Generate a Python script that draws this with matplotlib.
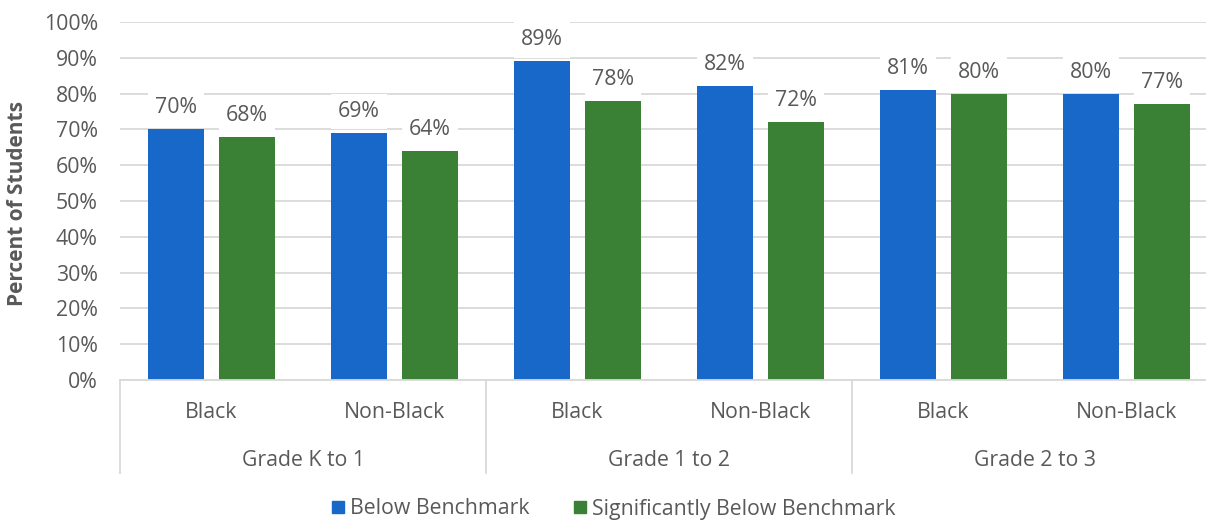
import matplotlib
matplotlib.use("Agg")
import matplotlib.pyplot as plt
import matplotlib.transforms as mtransforms
from matplotlib.lines import Line2D
import numpy as np

plt.rcParams['font.family'] = ['Open Sans', 'DejaVu Sans']

groups = ["Grade K to 1", "Grade 1 to 2", "Grade 2 to 3"]
subgroups = ["Black", "Non-Black"]
below = [70, 69, 89, 82, 81, 80]
sig_below = [68, 64, 78, 72, 80, 77]
series_names = ["Below Benchmark", "Significantly Below Benchmark"]
colors = ["#1868C9", "#3A8035"]
text_color = "#595959"
grid_color = "#D9D9D9"
fs = 15.3

W, H = 1206, 523
fig = plt.figure(figsize=(W / 100, H / 100), dpi=100)
ax_left, ax_right, ax_top, ax_bottom = 120, 1218, 22, 380
ax = fig.add_axes([ax_left / W, 1 - ax_bottom / H,
                   (ax_right - ax_left) / W, (ax_bottom - ax_top) / H])

n = len(below)
x = np.arange(n)
offset = 0.194
width = 0.306

for vals, dx, c in [(below, -offset, colors[0]), (sig_below, offset, colors[1])]:
    bars = ax.bar(x + dx, vals, width=width, color=c, zorder=2)
    for b, v in zip(bars, vals):
        ax.annotate(f"{v}%", (b.get_x() + b.get_width() / 2, v),
                    xytext=(0, 15.5), textcoords="offset points",
                    ha="center", va="center", fontsize=fs, color=text_color,
                    zorder=5,
                    bbox=dict(boxstyle="square,pad=0.35", fc="white", ec="none"))

ax.set_xlim(-0.5, n - 0.5)
ax.set_ylim(0, 100)
ax.set_yticks(np.arange(0, 101, 10))
ax.set_yticklabels([f"{t}%" for t in range(0, 101, 10)])
ax.tick_params(axis="y", length=0, pad=16, labelsize=fs, labelcolor=text_color)
ax.set_xticks([])
ax.yaxis.grid(True, color=grid_color, linewidth=1.3, zorder=0)
ax.set_axisbelow(True)
for s in ["top", "right", "left"]:
    ax.spines[s].set_visible(False)
ax.spines["bottom"].set_color(grid_color)
ax.spines["bottom"].set_linewidth(1.3)

# Two-level category axis
trans = mtransforms.blended_transform_factory(ax.transData, ax.transAxes)
axis_h = ax_bottom - ax_top
sep_depth = -(473 - ax_bottom) / axis_h
for sx in np.arange(-0.5, n, 2):
    ax.add_line(Line2D([sx, sx], [0, sep_depth], transform=trans,
                       color=grid_color, linewidth=1.3, clip_on=False))
row1_y = -(413 - ax_bottom) / axis_h
row2_y = -(460 - ax_bottom) / axis_h
for i in range(n):
    ax.text(i, row1_y, subgroups[i % 2], transform=trans, ha="center",
            va="center", fontsize=fs, color=text_color)
for g, name in enumerate(groups):
    ax.text(2 * g + 0.5, row2_y, name, transform=trans, ha="center",
            va="center", fontsize=fs, color=text_color)

fig.text(18 / W, 1 - 203 / H, "Percent of Students", rotation=90,
         ha="center", va="center", fontsize=15, fontweight="bold",
         color=text_color)

handles = [Line2D([], [], marker="s", linestyle="none", markersize=9,
                  markerfacecolor=c, markeredgecolor=c) for c in colors]
fig.legend(handles, series_names, loc="center", ncol=2,
           bbox_to_anchor=(612 / W, 1 - 509 / H), frameon=False,
           fontsize=fs, labelcolor=text_color, handletextpad=0.15,
           columnspacing=1.9, handlelength=0.9)

fig.savefig("out.png", dpi=100)
